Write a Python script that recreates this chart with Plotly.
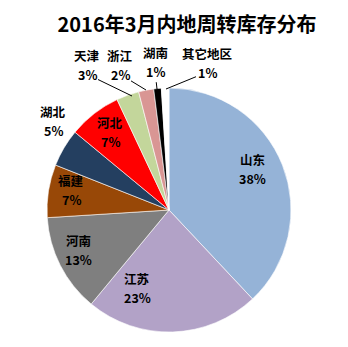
import plotly.graph_objects as go

# 2016年3月 内地周转库存 按地区占比（%）
regions = ["山东", "江苏", "河南", "福建", "湖北", "河北", "天津", "浙江", "湖南", "其它地区"]
shares = [38, 23, 13, 7, 5, 7, 3, 2, 1, 1]
colors = ["#95B3D7", "#B2A2C7", "#7F7F7F", "#984807", "#243F60",
          "#FF0000", "#C3D69B", "#D99694", "#000000", "#FFFFFF"]

W, H = 348, 347
L, R, T, B = 47, 57, 88, 15
PW, PH = W - L - R, H - T - B

# label block centres (pixels) and, for outside labels, the leader-line target
label_px = [(252, 169), (137, 288), (78, 250), (71, 190), (53, 121),
            (110, 132), (87, 65), (120, 65), (155, 62), (207, 63)]
leader = [None, None, None, None, None, None,
          (132, 96), (146, 90), (157, 89), (166, 89)]
LINE_GAP = 9.2  # half the distance between the name line and the percent line

FONT = "Noto Sans CJK SC"
label_font = dict(family=FONT, size=12.5, color="#000000", weight="bold")


def to_paper(px, py):
    return (px - L) / PW, 1 - (py - T) / PH


fig = go.Figure(go.Pie(
    labels=regions,
    values=shares,
    sort=False,
    direction="clockwise",
    rotation=0,
    marker=dict(colors=colors, line=dict(color="#FFFFFF", width=0.6)),
    textinfo="none",
    hoverinfo="label+percent",
    showlegend=False,
))

total = sum(shares)
for name, v, (px, py), tgt in zip(regions, shares, label_px, leader):
    pct = f"{round(100 * v / total)}%"
    nx, ny = to_paper(px, py - LINE_GAP)
    fig.add_annotation(x=nx, y=ny, xref="paper", yref="paper", text=name,
                       showarrow=False, xanchor="center", yanchor="middle", font=label_font)
    if tgt is None:
        x, y = to_paper(px, py + LINE_GAP)
        fig.add_annotation(x=x, y=y, xref="paper", yref="paper", text=pct,
                           showarrow=False, xanchor="center", yanchor="middle", font=label_font)
    else:
        x, y = to_paper(*tgt)
        fig.add_annotation(x=x, y=y, xref="paper", yref="paper", text=pct,
                           showarrow=True, arrowhead=0, arrowwidth=1, arrowcolor="#000000",
                           ax=px - tgt[0], ay=py + LINE_GAP - tgt[1], standoff=0,
                           xanchor="center", yanchor="middle", font=label_font)

fig.update_layout(
    width=W, height=H,
    margin=dict(l=L, r=R, t=T, b=B),
    paper_bgcolor="#FFFFFF",
    plot_bgcolor="#FFFFFF",
    title=dict(text="2016年3月内地周转库存分布", x=187 / W, xref="container", xanchor="center",
               y=1 - 25 / H, yref="container", yanchor="middle",
               font=dict(family=FONT, size=20, color="#000000", weight="bold")),
)

fig.write_html("out.html")
